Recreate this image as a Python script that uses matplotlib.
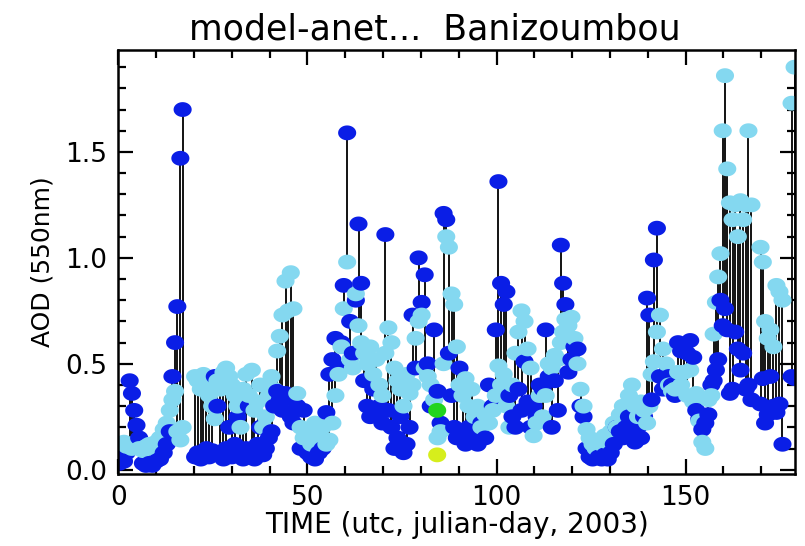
import numpy as np
import matplotlib.pyplot as plt
from matplotlib.ticker import MultipleLocator

plt.rcParams['font.family'] = ['DejaVu Sans']

# time (julian day), model AOD, aeronet AOD
days = [0.3, 0.8, 1.5, 2.2, 3.0, 3.6, 4.2, 4.8, 5.5, 6.5, 7.3, 8.2, 9.0, 10.0, 11.0,
        12.0, 12.8, 13.6, 14.3, 15.0, 15.6, 16.4, 17.0,
        20.3, 21.0, 21.8, 22.5, 23.3, 24.0, 24.8, 25.5, 26.2, 27.0, 27.8, 28.5, 29.3,
        30.0, 30.8, 31.5, 32.3, 33.0, 33.8, 34.5, 35.3, 36.0, 36.8, 37.5, 38.3, 39.0,
        39.8, 40.5, 41.2, 42.0, 42.7, 43.4, 44.2, 44.9, 45.6, 46.3, 47.3, 48.2, 49.0,
        50.0, 51.0, 52.0, 53.0, 54.0, 55.0, 55.8, 56.6, 57.4, 58.2, 59.0, 59.6, 60.5,
        61.3, 62.0, 62.8, 63.5, 64.2, 65.0, 65.8, 66.6, 67.4, 68.2, 69.0, 69.8, 70.6,
        71.4, 72.2, 73.0, 73.8, 74.6, 75.4, 76.2, 77.0, 77.8, 78.6, 79.4, 80.2, 81.0,
        81.8, 82.6, 83.5, 84.4, 85.2, 86.0, 86.7, 87.4, 88.1, 88.8, 89.5, 90.2, 91.0,
        91.8, 92.6, 93.4, 94.2, 95.0, 96.0, 97.0, 98.0, 99.0, 99.8, 100.5, 101.2, 101.9,
        102.6, 103.4, 104.2, 105.0, 105.8, 106.6, 107.4, 108.2, 109.0, 109.8, 110.6,
        111.4, 112.2, 113.0, 113.8, 114.6, 115.4, 116.2, 117.0, 117.6, 118.2, 119.0,
        119.8, 120.6, 121.4, 122.2, 123.0, 123.8, 124.6, 125.4, 126.2, 127.0, 127.8,
        128.6, 129.4, 130.2, 131.0, 131.8, 132.6, 133.4, 134.2, 135.0, 135.8, 136.6,
        137.4, 138.2, 139.0, 139.8, 140.4, 141.0, 141.6, 142.4, 143.2, 144.0, 144.8,
        145.6, 146.4, 147.2, 148.0, 148.8, 149.6, 150.4, 151.2, 152.0, 152.8, 153.6,
        154.4, 155.2, 156.0, 156.8, 157.4, 158.0, 158.6, 159.2, 159.8, 160.4, 161.0,
        161.7, 162.4, 163.1, 163.8, 164.5, 165.2, 165.9, 166.6, 167.4, 169.8, 170.4,
        171.0, 171.7, 172.4, 173.2, 174.0, 174.8, 175.6, 178.0, 178.8]

model = [0.03, 0.06, 0.04, 0.08, 0.42, 0.36, 0.28, 0.21, 0.15, 0.03, 0.02, 0.03, 0.02, 0.04, 0.05,
         0.08, 0.12, 0.18, 0.44, 0.60, 0.77, 1.47, 1.70,
         0.06, 0.08, 0.05, 0.07, 0.10, 0.06, 0.09, 0.44, 0.30, 0.08, 0.05, 0.10, 0.20,
         0.06, 0.12, 0.25, 0.08, 0.05, 0.10, 0.30, 0.06, 0.05, 0.12, 0.20, 0.07, 0.10,
         0.15, 0.18, 0.30, 0.37, 0.33, 0.28, 0.36, 0.34, 0.25, 0.22, 0.30, 0.10, 0.28,
         0.08, 0.06, 0.05, 0.08, 0.10, 0.27, 0.45, 0.52, 0.62, 0.48, 0.60, 0.87, 1.59,
         0.70, 0.55, 0.80, 1.16, 0.88, 0.42, 0.30, 0.25, 0.38, 0.26, 0.30, 0.22, 1.11,
         0.28, 0.20, 0.10, 0.15, 0.25, 0.08, 0.12, 0.20, 0.73, 0.48, 1.00, 0.79, 0.92,
         0.50, 0.30, 0.66, 0.37, 0.22, 1.21, 1.18, 0.55, 0.35, 0.20, 0.15, 0.48, 0.18,
         0.12, 0.20, 0.14, 0.18, 0.12, 0.22, 0.15, 0.40, 0.30, 0.66, 1.36, 0.88, 0.78,
         0.84, 0.35, 0.25, 0.20, 0.38, 0.28, 0.51, 0.32, 0.20, 0.30, 0.25,
         0.40, 0.38, 0.66, 0.44, 0.20, 0.42, 0.28, 1.06, 0.88, 0.78, 0.46,
         0.52, 0.58, 0.57, 0.30, 0.25, 0.10, 0.06, 0.05, 0.07, 0.06, 0.05,
         0.07, 0.05, 0.08, 0.12, 0.20, 0.18, 0.15, 0.20, 0.25, 0.18, 0.13,
         0.20, 0.15, 0.25, 0.81, 0.73, 0.33, 0.99, 1.14, 0.44, 0.38, 0.42,
         0.44, 0.40, 0.35, 0.60, 0.56, 0.58, 0.55, 0.61, 0.53, 0.28, 0.24,
         0.19, 0.22, 0.26, 0.40, 0.42, 0.47, 0.52, 0.80, 0.68, 0.76, 0.66,
         0.36, 0.38, 0.65, 0.57, 0.47, 0.55, 0.38, 0.40, 0.33, 0.31, 0.43,
         0.22, 0.26, 0.44, 0.30, 0.27, 0.31, 0.12, 0.44, 0.43]

aeronet = [0.12, 0.10, 0.13, 0.11, 0.12, 0.10, 0.12, 0.13, 0.10, 0.09, 0.11, 0.12, 0.10, 0.13, 0.15,
           0.19, 0.22, 0.28, 0.33, 0.37, 0.18, 0.14, 0.20,
           0.44, 0.42, 0.38, 0.45, 0.40, 0.35, 0.30, 0.24, 0.42, 0.38, 0.46, 0.48, 0.44,
           0.40, 0.35, 0.30, 0.20, 0.38, 0.45, 0.35, 0.47, 0.28, 0.32, 0.40, 0.20, 0.25,
           0.35, 0.44, 0.38, 0.56, 0.63, 0.73, 0.89, 0.75, 0.93, 0.76, 0.36, 0.20, 0.15,
           0.18, 0.12, 0.22, 0.15, 0.20, 0.12, 0.14, 0.22, 0.35, 0.45, 0.58, 0.76, 0.98,
           0.52, 0.48, 0.83, 0.68, 0.60, 0.55, 0.50, 0.58, 0.45, 0.52, 0.40, 0.35, 0.55,
           0.67, 0.60, 0.48, 0.42, 0.38, 0.30, 0.45, 0.36, 0.40, 0.62, 0.70, 0.73, 0.48,
           0.44, 0.40, 0.33, 0.15, 0.18, 0.50, 1.10, 1.05, 0.83, 0.78, 0.58, 0.40, 0.35,
           0.43, 0.30, 0.38, 0.25, 0.30, 0.20, 0.26, 0.22, 0.28, 0.35, 0.49, 0.40, 0.45,
           0.30, 0.20, 0.40, 0.55, 0.65, 0.75, 0.70, 0.57, 0.48, 0.16, 0.22,
           0.35, 0.25, 0.35, 0.50, 0.48, 0.54, 0.52, 0.60, 0.65, 0.71, 0.68,
           0.72, 0.62, 0.50, 0.38, 0.30, 0.19, 0.15, 0.12, 0.10, 0.14, 0.12,
           0.16, 0.13, 0.18, 0.22, 0.20, 0.26, 0.30, 0.28, 0.35, 0.40, 0.30,
           0.25, 0.32, 0.28, 0.22, 0.30, 0.45, 0.51, 0.65, 0.73, 0.57, 0.50,
           0.40, 0.37, 0.38, 0.46, 0.40, 0.46, 0.35, 0.47, 0.32, 0.36, 0.23,
           0.13, 0.10, 0.33, 0.35, 0.64, 0.79, 0.91, 1.02, 1.60, 1.86, 1.42,
           1.26, 1.18, 1.25, 1.10, 1.27, 1.18, 1.25, 1.60, 1.25, 1.05, 0.98,
           0.70, 0.62, 0.66, 0.58, 0.87, 0.84, 0.80, 1.73, 1.90]

# two extra points near day 84
extra_days = [84.3, 84.3]
extra_aod = [0.28, 0.07]
extra_cols = ['#22D41E', '#D6EE1C']

dark = '#0A1EE6'
light = '#84D8F0'

days = np.array(days)
model = np.array(model)
aeronet = np.array(aeronet)

th = np.linspace(0, 2 * np.pi, 40)
ell = np.column_stack([np.cos(th), 0.82 * np.sin(th)])

fig = plt.figure(figsize=(8.05, 5.46), dpi=100)
ax = fig.add_axes([0.147, 0.132, 0.841, 0.776])

ax.vlines(days, model, aeronet, color='black', lw=1.3, zorder=1)

# interleave model / aeronet points so they overlap as in the original
xs = np.column_stack([days, days]).ravel()
ys = np.column_stack([model, aeronet]).ravel()
cs = [dark, light] * len(days)
ax.scatter(xs, ys, s=170, c=cs, marker=ell, linewidths=0, zorder=2)
ax.scatter(extra_days, extra_aod, s=170, c=extra_cols, marker=ell, linewidths=0, zorder=3)

ax.set_xlim(0, 179)
ax.set_ylim(-0.02, 1.98)
ax.xaxis.set_major_locator(MultipleLocator(50))
ax.xaxis.set_minor_locator(MultipleLocator(10))
ax.yaxis.set_major_locator(MultipleLocator(0.5))
ax.yaxis.set_minor_locator(MultipleLocator(0.1))
ax.yaxis.set_major_formatter(plt.FuncFormatter(lambda v, p: '%.1f' % v))
ax.tick_params(which='both', direction='in', top=True, right=True, width=1.6, labelsize=19)
ax.tick_params(which='major', length=11, pad=8)
ax.tick_params(which='minor', length=6)
for sp in ax.spines.values():
    sp.set_linewidth(1.8)

ax.set_title('model-anet...  Banizoumbou', fontsize=25, pad=8, x=0.467)
ax.set_xlabel('TIME (utc, julian-day, 2003)', fontsize=20, labelpad=0)
ax.set_ylabel('AOD (550nm)', fontsize=18, labelpad=8)

fig.savefig('out.png', dpi=100)
